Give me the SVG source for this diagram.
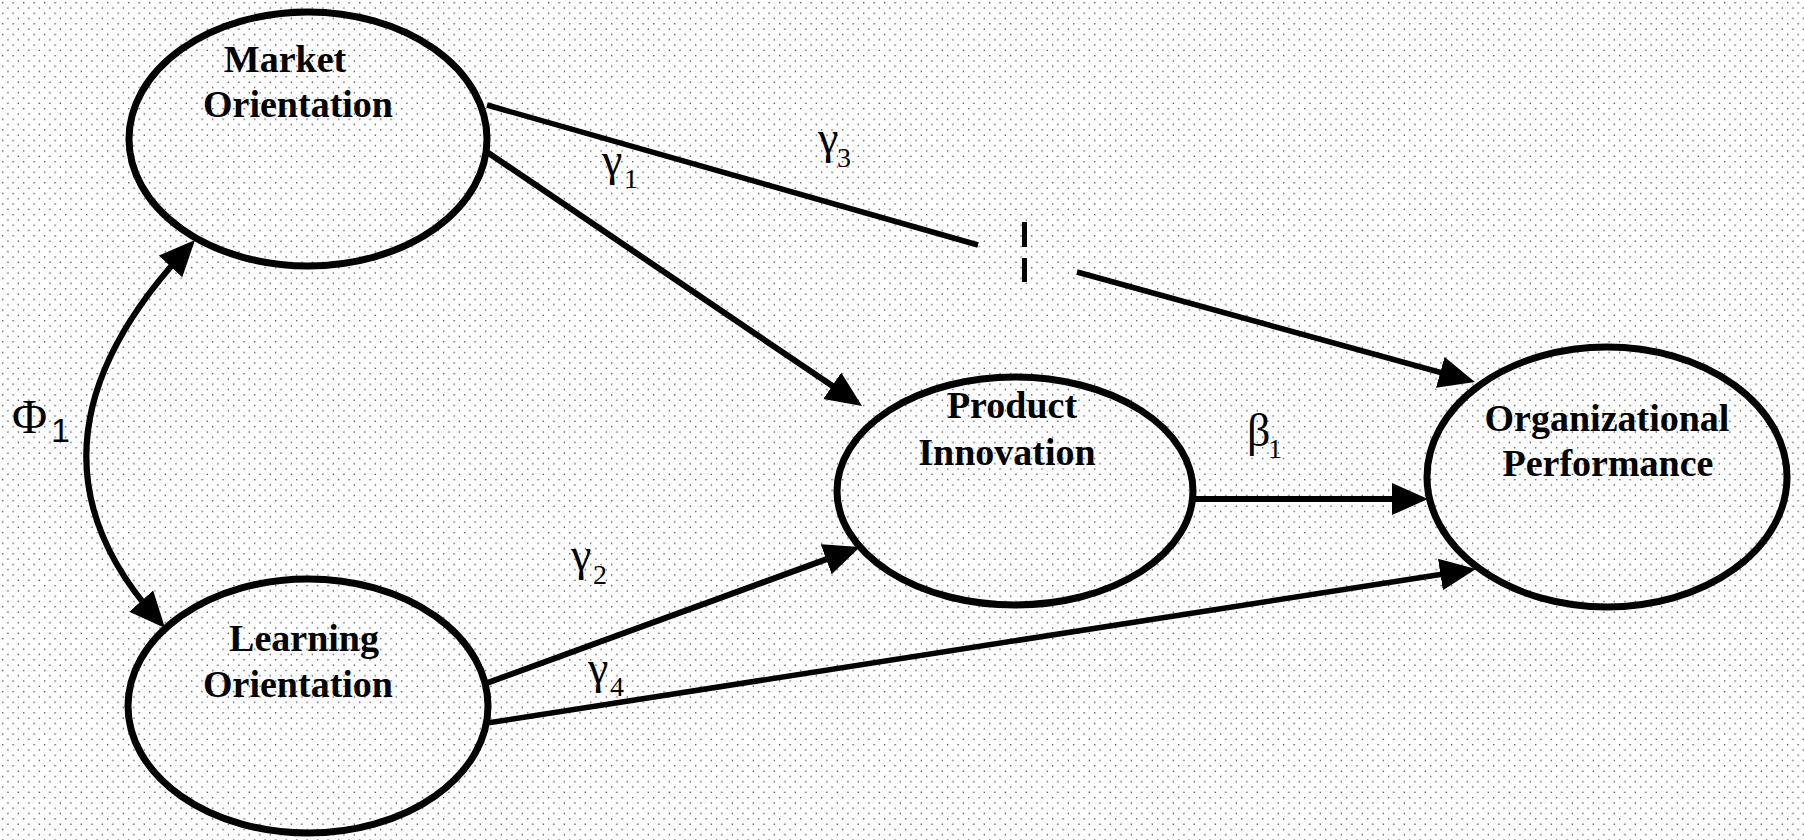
<svg xmlns="http://www.w3.org/2000/svg" width="1804" height="840" viewBox="0 0 1804 840">
<defs>
<pattern id="dots" x="0" y="0" width="10.5" height="10.6" patternUnits="userSpaceOnUse">
<rect x="2" y="2" width="1.3" height="1.3" fill="#3a3a3a"/>
<rect x="7.25" y="7.3" width="1.3" height="1.3" fill="#3a3a3a"/>
</pattern>
<marker id="ah" markerUnits="userSpaceOnUse" markerWidth="40" markerHeight="34" refX="21" refY="16" orient="auto-start-reverse" viewBox="0 0 40 34">
<path d="M0,0 L36,16 L0,32 Z" fill="#000"/>
</marker>
<style>
.node{fill:none;stroke:#000;stroke-width:7}
.lbl{font-family:"Liberation Serif","Times New Roman",serif;font-weight:bold;font-size:38px;fill:#000;text-anchor:middle}
.con{fill:none;stroke:#000;stroke-width:6}
.thin{stroke-width:5.5}
.gk{font-family:"Liberation Serif","Times New Roman",serif;font-size:46px;fill:#000}
.sub{font-family:"Liberation Serif","Times New Roman",serif;font-size:28px;fill:#000}
</style>
</defs>
<rect width="1804" height="840" fill="#fff"/>
<rect width="1804" height="840" fill="url(#dots)"/>

<g id="connectors">
<path class="con" d="M487,152 L849.6,397.6" marker-end="url(#ah)"/>
<path class="con thin" d="M487,105 L978,245"/>
<path class="con" d="M1024.5,222 L1024.5,247 M1024.5,258 L1024.5,282" style="stroke-width:5"/>
<path class="con thin" d="M1077,272 L1460.5,378" marker-end="url(#ah)"/>
<path class="con" d="M487,683 L845.9,552.1" marker-end="url(#ah)"/>
<path class="con thin" d="M487,723 L1461.2,571.3" marker-end="url(#ah)"/>
<path class="con" d="M1193,499 L1413,499" marker-end="url(#ah)"/>
<path class="con" d="M184.8,251 Q4,446 155.1,616.8" marker-start="url(#ah)" marker-end="url(#ah)"/>
<text class="gk" x="602" y="175">γ</text><text class="sub" x="624" y="188">1</text>
<text class="gk" x="818" y="153">γ</text><text class="sub" x="837" y="167">3</text>
<text class="gk" x="571" y="570">γ</text><text class="sub" x="593" y="584">2</text>
<text class="gk" x="588" y="683">γ</text><text class="sub" x="610" y="696">4</text>
<text class="gk" x="1247" y="446">β</text><text class="sub" x="1268" y="458">1</text>
<text class="gk" x="12" y="433" style="font-size:48px">Φ</text><text x="51" y="442" style="font-family:'Liberation Sans',Arial,sans-serif;font-size:34px">1</text>
</g>

<g id="market">
<ellipse class="node" cx="308" cy="139" rx="179" ry="127"/>
<text class="lbl" x="285" y="72">Market</text>
<text class="lbl" x="298" y="117">Orientation</text>
</g>
<g id="learning">
<ellipse class="node" cx="308" cy="706" rx="180" ry="127"/>
<text class="lbl" x="304" y="651">Learning</text>
<text class="lbl" x="298" y="697">Orientation</text>
</g>
<g id="product">
<ellipse class="node" cx="1015" cy="491" rx="178" ry="114"/>
<text class="lbl" x="1012" y="418">Product</text>
<text class="lbl" x="1007" y="465">Innovation</text>
</g>
<g id="performance">
<ellipse class="node" cx="1607" cy="477" rx="180" ry="130"/>
<text class="lbl" x="1607" y="431">Organizational</text>
<text class="lbl" x="1608" y="476">Performance</text>
</g>
</svg>
